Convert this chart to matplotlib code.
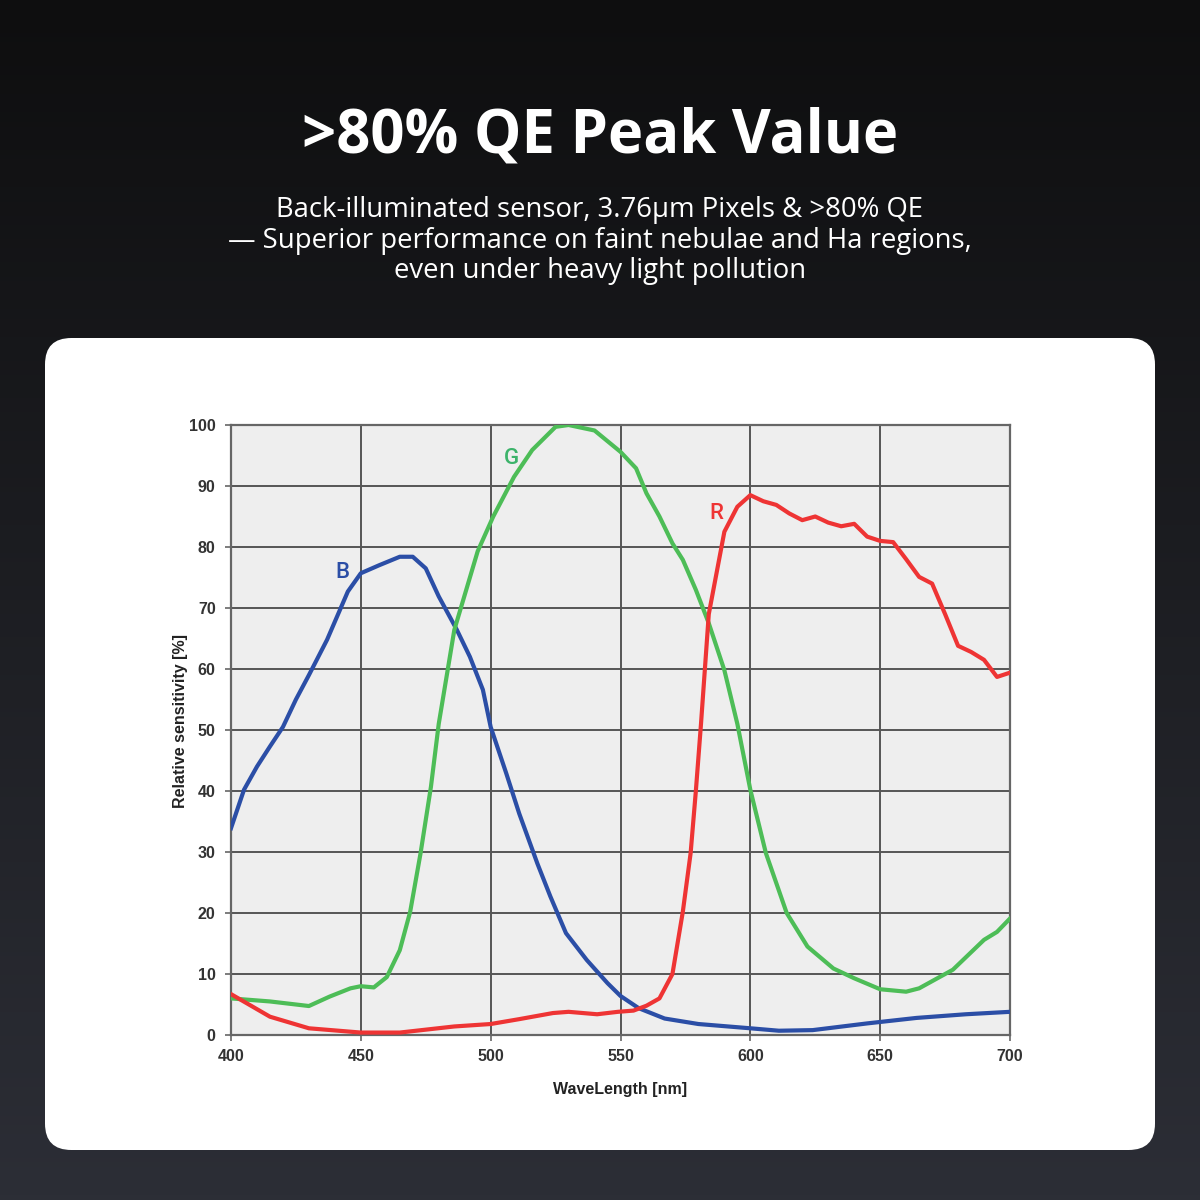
import numpy as np
import matplotlib
matplotlib.use("Agg")
import matplotlib.pyplot as plt
from matplotlib.patches import FancyBboxPatch

# ---------------- data ----------------
wl_b = [400, 405, 410, 415, 420, 425, 430, 437, 445, 450, 457, 465, 470, 475, 480, 487, 492, 497, 500,
        506, 511, 518, 523, 529, 537, 545, 550, 557, 567, 580, 600, 611, 624, 645, 664, 683, 700]
val_b = [33.9, 40.2, 44.0, 47.3, 50.5, 55.0, 59.0, 64.8, 72.7, 75.7, 77.0, 78.4, 78.4, 76.5, 71.9, 66.4, 62.0, 56.6, 50.5,
         42.9, 36.3, 28.1, 22.7, 16.7, 12.3, 8.5, 6.4, 4.4, 2.7, 1.8, 1.1, 0.7, 0.8, 1.9, 2.8, 3.4, 3.8]

wl_g = [400, 415, 430, 438, 446, 450, 455, 460, 465, 469, 473, 477, 480, 486, 495, 501, 509, 516, 525, 530,
        540, 550, 556, 560, 565, 570, 574, 579, 584, 590, 595, 600, 606, 614, 622, 632, 640, 650, 660, 665,
        678, 690, 695, 700]
val_g = [6.0, 5.5, 4.75, 6.3, 7.65, 8.0, 7.8, 9.5, 13.9, 20.2, 29.8, 40.7, 51.0, 66.4, 79.3, 85.0, 91.5, 95.9, 99.7, 100.0,
         99.1, 95.6, 92.9, 88.8, 85.0, 80.6, 77.9, 73.0, 67.5, 59.8, 51.0, 40.2, 29.8, 20.0, 14.5, 10.9, 9.3, 7.5, 7.1, 7.65,
         10.7, 15.6, 16.9, 19.1]

wl_r = [400, 415, 430, 450, 465, 486, 500, 511, 524, 530, 541, 549, 555, 560, 565, 570, 574, 577, 579, 581,
        584, 590, 595, 600, 605, 610, 615, 620, 625, 630, 635, 640, 645, 650, 655, 660, 665, 670, 675, 680,
        685, 690, 695, 700]
val_r = [6.7, 3.0, 1.1, 0.4, 0.4, 1.4, 1.8, 2.6, 3.6, 3.8, 3.4, 3.8, 4.0, 4.8, 6.0, 10.0, 20.2, 29.8, 39.9, 51.0,
         69.0, 82.5, 86.6, 88.5, 87.5, 86.9, 85.5, 84.4, 85.0, 84.0, 83.4, 83.8, 81.7, 81.0, 80.8, 78.0, 75.1, 74.0, 69.0, 63.8,
         62.8, 61.5, 58.7, 59.4]

x_ticks = [400, 450, 500, 550, 600, 650, 700]
y_ticks = [0, 10, 20, 30, 40, 50, 60, 70, 80, 90, 100]

title = ">80% QE Peak Value"
subtitle = ["Back-illuminated sensor, 3.76\u03bcm Pixels & >80% QE",
            "\u2014 Superior performance on faint nebulae and Ha regions,",
            "even under heavy light pollution"]

C_B = "#2b4ea6"
C_G = "#4dbd57"
C_R = "#ee3434"

# ---------------- figure ----------------
fig = plt.figure(figsize=(12, 12), dpi=100)

# background gradient
bg = fig.add_axes([0, 0, 1, 1])
bg.set_axis_off()
bg.set_zorder(-5)
top = np.array([14, 14, 15]) / 255.0
bot = np.array([44, 46, 54]) / 255.0
t = np.linspace(0, 1, 256)[:, None]
grad = top[None, :] * (1 - t) + bot[None, :] * t
img = np.repeat(grad[:, None, :], 2, axis=1)
bg.imshow(img, aspect="auto", extent=[0, 1, 0, 1], origin="upper")
bg.set_xlim(0, 1)
bg.set_ylim(0, 1)

# white card
card = FancyBboxPatch((45 / 1200, 1 - 1150 / 1200), 1110 / 1200, 812 / 1200,
                      boxstyle="round,pad=0,rounding_size=0.022",
                      transform=bg.transAxes, facecolor="white", edgecolor="none", zorder=5)
bg.add_patch(card)

# texts
fig.text(0.5, 1 - 137 / 1200, title, ha="center", va="center", color="white",
         fontsize=43, fontweight="bold", family="Open Sans")
for line, yy in zip(subtitle, [210, 241, 271]):
    fig.text(0.5, 1 - yy / 1200, line, ha="center", va="center", color="white",
             fontsize=19.8, fontweight="medium", family="Open Sans")

# chart
ax = fig.add_axes([231 / 1200, 1 - 1035 / 1200, 779 / 1200, 610 / 1200])
ax.set_zorder(3)
ax.set_facecolor("#eeeeee")
ax.plot(wl_b, val_b, color=C_B, lw=3.0, solid_joinstyle="round", zorder=3)
ax.plot(wl_g, val_g, color=C_G, lw=3.0, solid_joinstyle="round", zorder=3)
ax.plot(wl_r, val_r, color=C_R, lw=3.0, solid_joinstyle="round", zorder=3)
ax.set_xlim(400, 700)
ax.set_ylim(0, 100)
ax.set_xticks(x_ticks)
ax.set_yticks(y_ticks)
ax.grid(True, color="#555555", lw=1.4, zorder=1)
ax.set_axisbelow(True)
for s in ax.spines.values():
    s.set_color("#666666")
    s.set_linewidth(1.6)
ax.tick_params(axis="both", length=4, width=1.2, color="#666666", labelcolor="#333333", labelsize=11.5)
ax.tick_params(axis="y", pad=7)
ax.tick_params(axis="x", pad=6)
for lab in ax.get_xticklabels() + ax.get_yticklabels():
    lab.set_fontweight("bold")
    lab.set_family("Liberation Sans")
ax.set_xlabel("WaveLength [nm]", fontsize=11.5, fontweight="bold", family="Liberation Sans",
              color="#222222", labelpad=13)
ax.set_ylabel("Relative sensitivity [%]", fontsize=11.5, fontweight="bold", family="Liberation Sans",
              color="#222222", labelpad=4)
ax.yaxis.set_label_coords(-0.055, 0.515)

ax.text(443, 75.8, "B", color=C_B, fontsize=16, fontweight="medium", ha="center", va="center", family="Roboto")
ax.text(508, 94.5, "G", color="#3cb36a", fontsize=16, fontweight="medium", ha="center", va="center", family="Roboto")
ax.text(587, 85.5, "R", color=C_R, fontsize=16, fontweight="medium", ha="center", va="center", family="Roboto")

fig.savefig("out.png", dpi=100)
